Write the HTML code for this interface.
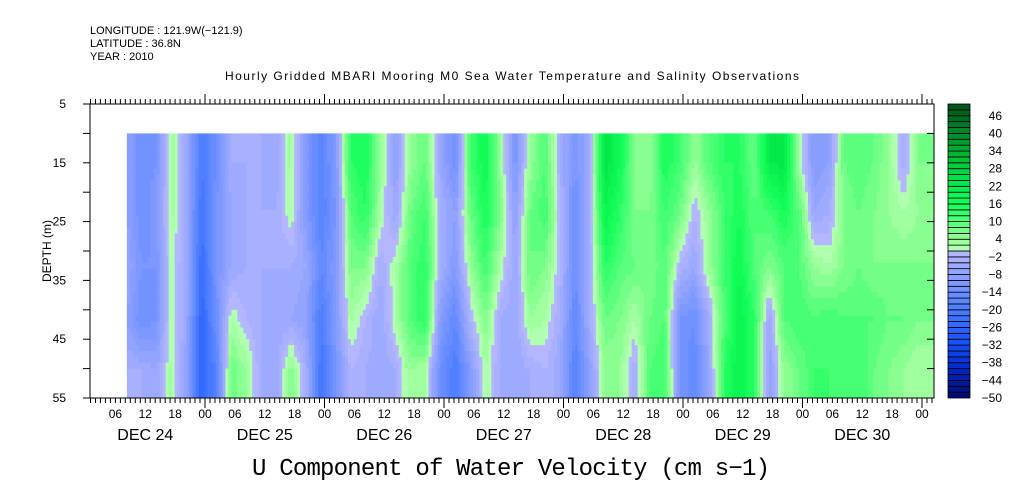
<!DOCTYPE html>
<html><head><meta charset="utf-8">
<style>
html,body{margin:0;padding:0;background:#fff;}
svg{display:block;font-family:"Liberation Sans",sans-serif;}
</style></head>
<body>
<svg id="chart" width="1009" height="504" viewBox="0 0 1009 504" xmlns="http://www.w3.org/2000/svg">
<text x="90" y="34" font-size="11">LONGITUDE : 121.9W(−121.9)</text>
<text x="90" y="47" font-size="11">LATITUDE : 36.8N</text>
<text x="90" y="60" font-size="11">YEAR : 2010</text>
<text x="512" y="80" font-size="12" text-anchor="middle" textLength="574">Hourly Gridded MBARI Mooring M0 Sea Water Temperature and Salinity Observations</text>
<g id="cells"></g>
<g id="axes"></g>
<g id="cbar"></g>
<text transform="translate(51,251) rotate(-90)" font-size="12" text-anchor="middle">DEPTH (m)</text>
<text x="511" y="475" font-size="24" text-anchor="middle" textLength="518" font-family="'Liberation Mono',monospace">U Component of Water Velocity (cm s−1)</text>
</svg>
<script>
// time in hours since Dec 24 00:00 for each column of data
const colHours = [];
for (let i = 0; i < 54; i++) colHours.push(8.3 + i * 3);
const rowDepths = [14.5, 23.5, 32.5, 41.5, 50.5];
// velocity values [column][depth row]
const values = [
[-8,-8,-6,-8,-4],[-14,-14,-12,-14,-4],[-12,-10,-12,-12,-6],[3,3,2,2,3],[-6,-6,-6,-6,-8],
[-20,-22,-24,-26,-26],[-14,-12,-12,-14,-18],[-4,-6,-6,2,8],[-4,-4,-4,-2,4],[-4,-4,-4,-4,-4],
[-6,-4,-4,-6,-6],[3,2,-4,-6,6],[-10,-10,-6,-8,-4],[-18,-18,-16,-20,-22],[-10,-12,-10,-10,-12],
[14,10,6,3,-2],[16,14,6,-2,-4],[4,2,-4,-6,-6],[-8,-6,2,2,-4],[4,8,10,10,4],
[8,12,14,14,2],[-6,-4,-4,-10,-14],[-14,-8,-10,-16,-20],[12,8,4,-2,-10],[18,16,12,6,2],
[4,6,2,-4,-4],[-12,-8,-6,-6,-6],[4,8,8,4,-4],[10,12,6,2,-2],[-4,-2,-2,-4,-6],
[-12,-14,-14,-16,-18],[-4,-4,-4,-4,-8],[24,20,14,8,4],[18,14,10,6,4],[6,6,8,2,-4],
[4,6,6,8,10],[16,12,10,10,12],[12,8,-2,-12,-12],[4,-2,-6,-14,-16],[10,4,4,-4,-6],
[14,12,12,10,14],[14,16,18,20,20],[8,10,10,14,14],[22,12,6,-6,-8],[24,16,10,10,4],
[2,10,10,12,8],[-10,-6,4,10,12],[-8,-4,2,12,12],[8,6,6,10,10],[10,8,8,10,12],
[8,6,6,10,8],[4,4,6,8,6],[-4,2,6,8,4],[6,4,6,6,2]
];
const cbarLabels = [46,40,34,28,22,16,10,4,-2,-8,-14,-20,-26,-32,-38,-44,-50];
const depthTicks = [5,15,25,35,45,55];
const dayLabels = ["DEC 24","DEC 25","DEC 26","DEC 27","DEC 28","DEC 29","DEC 30"];

const NS = "http://www.w3.org/2000/svg";
const X0 = 90, X1 = 934, Y0 = 104, Y1 = 398;
const xOf = h => 85.5 + h * 119.5 / 24;
const yOf = d => Y0 + (d - 5) * (Y1 - Y0) / 50;
const cbY = v => Y1 - (v + 50) * (Y1 - Y0) / 100;

function lerpStops(stops, v) {
  for (let i = 0; i < stops.length - 1; i++) {
    const a = stops[i], b = stops[i + 1];
    if (v >= Math.min(a[0], b[0]) && v <= Math.max(a[0], b[0])) {
      const t = (v - a[0]) / (b[0] - a[0]);
      return [0,1,2].map(k => Math.round(a[1][k] + t * (b[1][k] - a[1][k])));
    }
  }
  return stops[stops.length - 1][1];
}
const negStops = [[0,[185,185,255]],[-10,[130,155,255]],[-20,[75,125,255]],[-30,[25,85,255]],[-40,[0,40,200]],[-50,[0,10,110]]];
const posStops = [[0,[185,255,185]],[4,[150,255,150]],[10,[80,255,120]],[16,[20,255,90]],[24,[0,230,70]],[34,[0,175,50]],[50,[0,80,25]]];
function colorFor(v) {
  v = Math.max(-49.9, Math.min(49.9, v));
  const band = Math.floor(v / 2) * 2 + 1;
  const c = band < 0 ? lerpStops(negStops, band) : lerpStops(posStops, band);
  return `rgb(${c[0]},${c[1]},${c[2]})`;
}
function mk(tag, attrs, parent) {
  const e = document.createElementNS(NS, tag);
  for (const k in attrs) e.setAttribute(k, attrs[k]);
  parent.appendChild(e);
  return e;
}
function sample(h, d) {
  let i = 0;
  while (i < colHours.length - 2 && colHours[i + 1] < h) i++;
  let tx = (h - colHours[i]) / (colHours[i + 1] - colHours[i]);
  tx = Math.max(0, Math.min(1, tx));
  let j = 0;
  while (j < rowDepths.length - 2 && rowDepths[j + 1] < d) j++;
  let ty = (d - rowDepths[j]) / (rowDepths[j + 1] - rowDepths[j]);
  ty = Math.max(0, Math.min(1, ty));
  const a = values[i][j] * (1 - tx) + values[i + 1][j] * tx;
  const b = values[i][j + 1] * (1 - tx) + values[i + 1][j + 1] * tx;
  return a * (1 - ty) + b * ty;
}
// heatmap
const cells = document.getElementById("cells");
const hStart = colHours[0], hEnd = (X1 - 85.5) * 24 / 119.5;
const dh = 0.6, dd = 1;
for (let h = hStart; h < hEnd; h += dh) {
  for (let d = 10; d < 55; d += dd) {
    const r = mk("rect", {x: xOf(h).toFixed(2), y: yOf(d).toFixed(2),
      width: (xOf(Math.min(h + dh, hEnd)) - xOf(h) + 0.4).toFixed(2),
      height: (yOf(d + dd) - yOf(d) + 0.4).toFixed(2),
      fill: colorFor(sample(h + dh / 2, d + dd / 2))}, cells);
    
    
  }
}
// axes
const ax = document.getElementById("axes");
const frame = mk("rect", {x: X0, y: Y0, width: X1 - X0, height: Y1 - Y0, fill: "none", stroke: "#000", "stroke-width": 1}, ax);


for (let h = 1; xOf(h) <= X1 + 0.1; h++) {
  const x = xOf(h).toFixed(1);
  const major = h % 24 === 0;
  mk("line", {x1: x, x2: x, y1: Y0, y2: Y0 - (major ? 10 : 5), stroke: "#000"}, ax);
  mk("line", {x1: x, x2: x, y1: Y1, y2: Y1 + (major ? 10 : 5), stroke: "#000"}, ax);
  if (h % 6 === 0) {
    const t = mk("text", {x: x, y: 418, "font-size": 12, "text-anchor": "middle"}, ax);
    
    
    t.textContent = String(h % 24).padStart(2, "0");
  }
}
dayLabels.forEach((lab, i) => {
  const t = mk("text", {x: xOf(24 * i + 12).toFixed(1), y: 440, "font-size": 16, "text-anchor": "middle"}, ax);
  
  
  t.textContent = lab;
});
for (let d = 5; d <= 55; d += 5) {
  const y = yOf(d).toFixed(1);
  mk("line", {x1: X0, x2: X0 - 7, y1: y, y2: y, stroke: "#000"}, ax);
  mk("line", {x1: X1, x2: X1 - 7, y1: y, y2: y, stroke: "#000"}, ax);
}
depthTicks.forEach(d => {
  const t = mk("text", {x: 66, y: (yOf(d) + 4).toFixed(1), "font-size": 12, "text-anchor": "end"}, ax);
  
  
  t.textContent = d;
});
// colorbar
const cb = document.getElementById("cbar");
for (let v = -50; v < 50; v += 2) {
  const r = mk("rect", {x: 948, y: cbY(v + 2).toFixed(2), width: 22, height: (cbY(v) - cbY(v + 2)).toFixed(2), fill: colorFor(v + 1), stroke: "#000", "stroke-width": 0.8}, cb);
  
  
}
cbarLabels.forEach(v => {
  const t = mk("text", {x: 1002, y: (cbY(v) + 4).toFixed(1), "font-size": 12, "text-anchor": "end"}, cb);
  
  
  t.textContent = v < 0 ? "−" + (-v) : String(v);
});
</script>
</body></html>
